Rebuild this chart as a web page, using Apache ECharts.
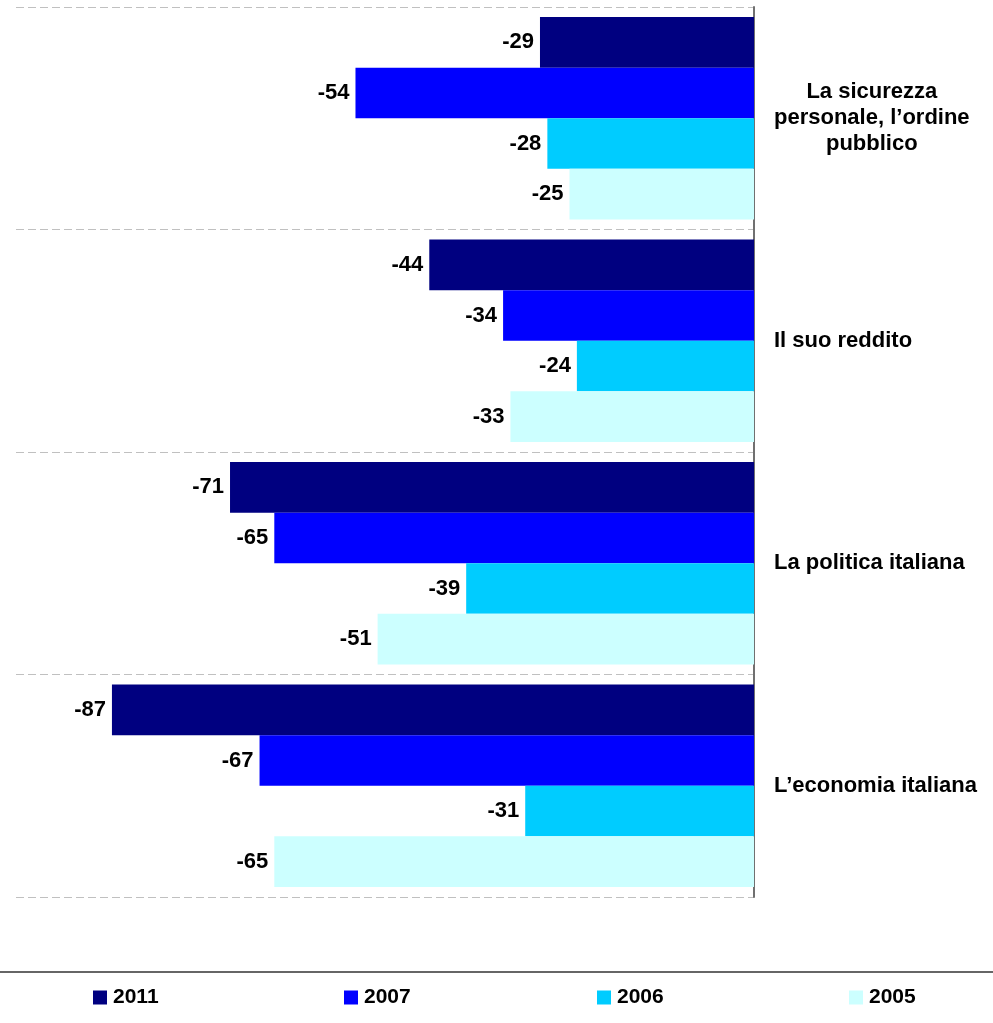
<!DOCTYPE html>
<html>
<head>
<meta charset="utf-8">
<script src="https://cdn.jsdelivr.net/npm/echarts@6/dist/echarts.min.js"></script>
<style>html,body{margin:0;padding:0;background:#fff}#c{width:993px;height:1023px}</style>
</head>
<body>
<div id="c"></div>
<script>
const categories = ['La sicurezza\npersonale, l’ordine\npubblico', 'Il suo reddito', 'La politica italiana', 'L’economia italiana'];
const years = ['2011', '2007', '2006', '2005'];
const v2011 = [-29, -44, -71, -87];
const v2007 = [-54, -34, -65, -67];
const v2006 = [-28, -24, -39, -31];
const v2005 = [-25, -33, -51, -65];
const colors = ['#000080', '#0000FF', '#00CCFF', '#CCFFFF'];
const legendLeft = [93, 344, 597, 849];

const FONT = '"Liberation Sans", Arial, sans-serif';
const seriesValues = [v2011, v2007, v2006, v2005];

const chart = echarts.init(document.getElementById('c'), null, {renderer: 'canvas'});
const series = years.map((y, i) => ({
  name: y,
  type: 'bar',
  data: seriesValues[i],
  barGap: '0%',
  barCategoryGap: '9%',
  itemStyle: {color: colors[i]},
  label: {
    show: true, position: 'left', distance: 6,
    color: '#000', fontWeight: 'bold', fontSize: 22, fontFamily: FONT
  }
}));

chart.setOption({
  animation: false,
  backgroundColor: '#fff',
  grid: {left: 16, right: 239, top: 7, bottom: 126, containLabel: false},
  xAxis: {
    type: 'value', min: -100, max: 0,
    axisLine: {show: false}, axisTick: {show: false}, axisLabel: {show: false},
    splitLine: {show: false}
  },
  yAxis: {
    type: 'category', data: categories, inverse: true, position: 'right',
    axisLine: {show: true, onZero: false, lineStyle: {color: '#707070', width: 2}},
    axisTick: {show: false},
    splitLine: {show: true, lineStyle: {color: '#c0c0c0', type: [8, 4], width: 1}},
    axisLabel: {
      margin: 20, align: 'left', color: '#000', fontWeight: 'bold', fontSize: 22, fontFamily: FONT,
      lineHeight: 26,
      formatter: function (v) {
        return v.split('\n').map(s => '{c|' + s + '}').join('\n');
      },
      rich: {c: {align: 'center', color: '#000', fontWeight: 'bold', fontSize: 22, fontFamily: FONT, lineHeight: 26}}
    }
  },
  legend: years.map((y, i) => ({
    data: [y], left: legendLeft[i], top: 987, padding: 0,
    itemWidth: 14, itemHeight: 14, icon: 'rect',
    textStyle: {color: '#000', fontWeight: 'bold', fontSize: 21, fontFamily: FONT, padding: [0,0,0,1]},
    selectedMode: false
  })),
  graphic: [{
    type: 'line', shape: {x1: 0, y1: 972, x2: 993, y2: 972},
    style: {stroke: '#333', lineWidth: 1.5}
  }],
  series: series
});
</script>
</body>
</html>
